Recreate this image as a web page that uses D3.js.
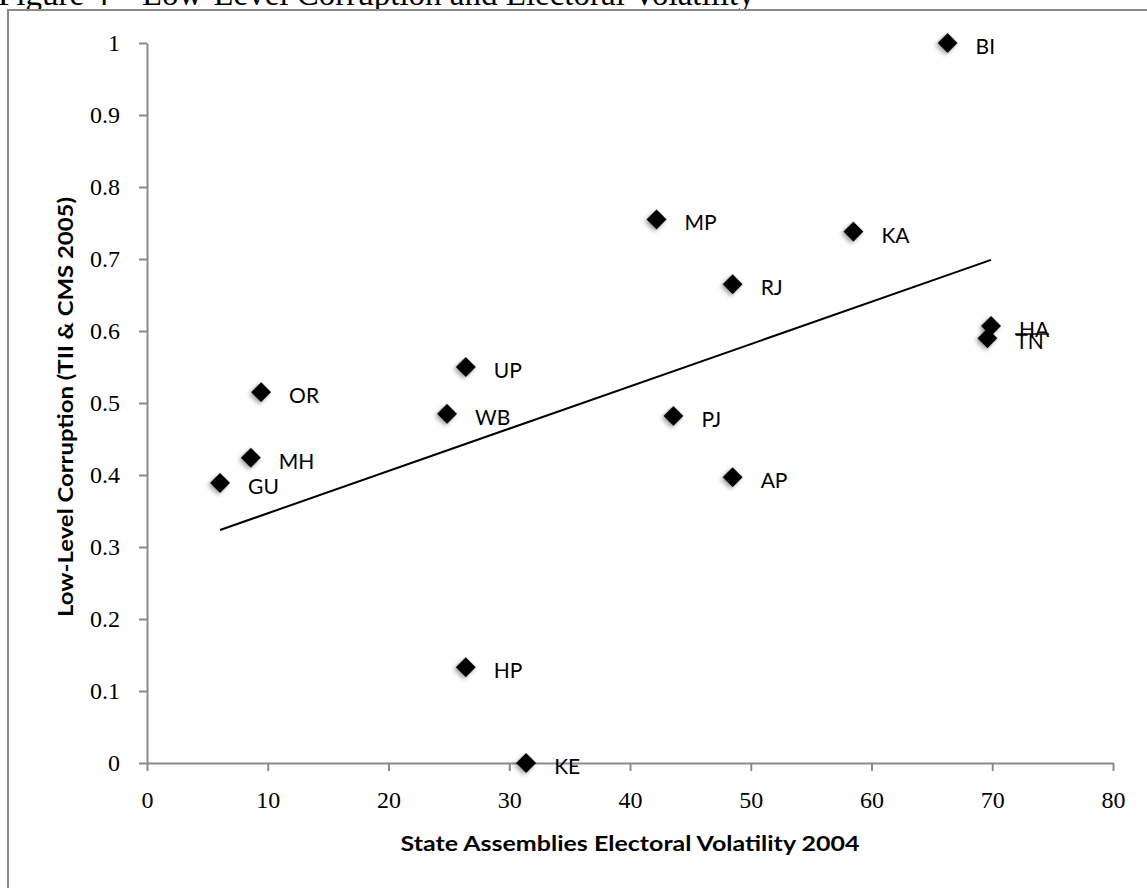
<!DOCTYPE html>
<html>
<head>
<meta charset="utf-8">
<script src="https://cdn.jsdelivr.net/npm/d3@7"></script>
<style>
  body { margin: 0; background: #fff; }
  svg { display: block; }
</style>
</head>
<body>
<svg id="chart"></svg>
<script>
// state codes and values
const states = ["BI", "KA", "MP", "RJ", "HA", "TN", "UP", "WB", "OR", "MH", "GU", "PJ", "AP", "HP", "KE"];
const volatility = [66.3, 58.5, 42.2, 48.5, 69.9, 69.6, 26.4, 24.85, 9.45, 8.6, 6.05, 43.6, 48.5, 26.4, 31.4];
const corruption = [1.0, 0.738, 0.755, 0.665, 0.607, 0.59, 0.55, 0.485, 0.515, 0.424, 0.389, 0.482, 0.397, 0.133, 0.0];
const xTicks = [0, 10, 20, 30, 40, 50, 60, 70, 80];
const yTicks = [0, 0.1, 0.2, 0.3, 0.4, 0.5, 0.6, 0.7, 0.8, 0.9, 1];

const width = 1147, height = 888;
const points = states.map((s, i) => ({ state: s, x: volatility[i], y: corruption[i] }));

const svg = d3.select("#chart")
  .attr("width", width)
  .attr("height", height);

// drop shadow for markers
const defs = svg.append("defs");
defs.append("filter")
  .attr("id", "shadow")
  .attr("x", "-50%").attr("y", "-50%")
  .attr("width", "200%").attr("height", "200%")
  .append("feDropShadow")
  .attr("dx", 0).attr("dy", 3)
  .attr("stdDeviation", 2)
  .attr("flood-color", "#000")
  .attr("flood-opacity", 0.35);

// figure caption, clipped by the top of the picture
svg.append("text")
  .attr("x", -2)
  .attr("y", 5)
  .attr("font-family", "Liberation Serif, serif")
  .attr("font-size", 33)
  .text("Figure 4 \u2013 Low-Level Corruption and Electoral Volatility");

// chart frame
svg.append("rect")
  .attr("x", 8).attr("y", 10)
  .attr("width", 1160).attr("height", 900)
  .attr("fill", "#fff")
  .attr("stroke", "#8a8a8a")
  .attr("stroke-width", 2);

const x = d3.scaleLinear().domain([0, 80]).range([147, 1113]);
const y = d3.scaleLinear().domain([0, 1]).range([763, 43]);

// axes
const xAxis = svg.append("g")
  .attr("transform", `translate(0,${y(0)})`)
  .call(d3.axisBottom(x).tickValues(xTicks).tickSize(8).tickSizeOuter(0).tickPadding(20));

const yAxis = svg.append("g")
  .attr("transform", `translate(${x(0)},0)`)
  .call(d3.axisLeft(y).tickValues(yTicks).tickSize(8).tickSizeOuter(0).tickPadding(19)
    .tickFormat(d => String(+d.toFixed(1))));

[xAxis, yAxis].forEach(ax => {
  ax.select(".domain").attr("stroke", "#8a8a8a").attr("stroke-width", 2);
  ax.selectAll(".tick line").attr("stroke", "#8a8a8a").attr("stroke-width", 2);
  ax.selectAll(".tick text")
    .attr("font-family", "Liberation Serif, serif")
    .attr("font-size", 24)
    .attr("fill", "#000");
});

// axis titles
svg.append("text")
  .attr("x", 630)
  .attr("y", 851)
  .attr("text-anchor", "middle")
  .attr("font-family", "Lato, sans-serif")
  .attr("font-weight", "bold")
  .attr("font-size", 21)
  .attr("textLength", 459)
  .attr("lengthAdjust", "spacingAndGlyphs")
  .text("State Assemblies Electoral Volatility 2004");

svg.append("text")
  .attr("transform", "translate(73,407) rotate(-90)")
  .attr("text-anchor", "middle")
  .attr("font-family", "Lato, sans-serif")
  .attr("font-weight", "bold")
  .attr("font-size", 21)
  .attr("textLength", 420)
  .attr("lengthAdjust", "spacingAndGlyphs")
  .text("Low-Level Corruption (TII & CMS 2005)");

// linear trend line (least squares), over the range of the data
const mx = d3.mean(points, d => d.x), my = d3.mean(points, d => d.y);
const slope = d3.sum(points, d => (d.x - mx) * (d.y - my)) / d3.sum(points, d => (d.x - mx) ** 2);
const intercept = my - slope * mx;
const [x0, x1] = d3.extent(points, d => d.x);

svg.append("line")
  .attr("x1", x(x0)).attr("y1", y(intercept + slope * x0))
  .attr("x2", x(x1)).attr("y2", y(intercept + slope * x1))
  .attr("stroke", "#000")
  .attr("stroke-width", 2);

// diamond markers
svg.append("g")
  .selectAll("path")
  .data(points)
  .join("path")
  .attr("d", d3.symbol(d3.symbolSquare, 200))
  .attr("transform", d => `translate(${x(d.x)},${y(d.y)}) rotate(45)`)
  .attr("fill", "#000")
  .attr("filter", "url(#shadow)");

// point labels
svg.append("g")
  .selectAll("text")
  .data(points)
  .join("text")
  .attr("x", d => x(d.x) + 28)
  .attr("y", d => y(d.y) + 11)
  .attr("font-family", "Lato, sans-serif")
  .attr("font-size", 21)
  .attr("fill", "#000")
  .text(d => d.state);

// leader line drawn through the HA label
const ha = points.find(d => d.state === "HA");
svg.append("line")
  .attr("x1", x(ha.x) + 24).attr("y1", y(ha.y) + 8)
  .attr("x2", x(ha.x) + 58).attr("y2", y(ha.y) + 8)
  .attr("stroke", "#000")
  .attr("stroke-width", 1.5);
</script>
</body>
</html>
